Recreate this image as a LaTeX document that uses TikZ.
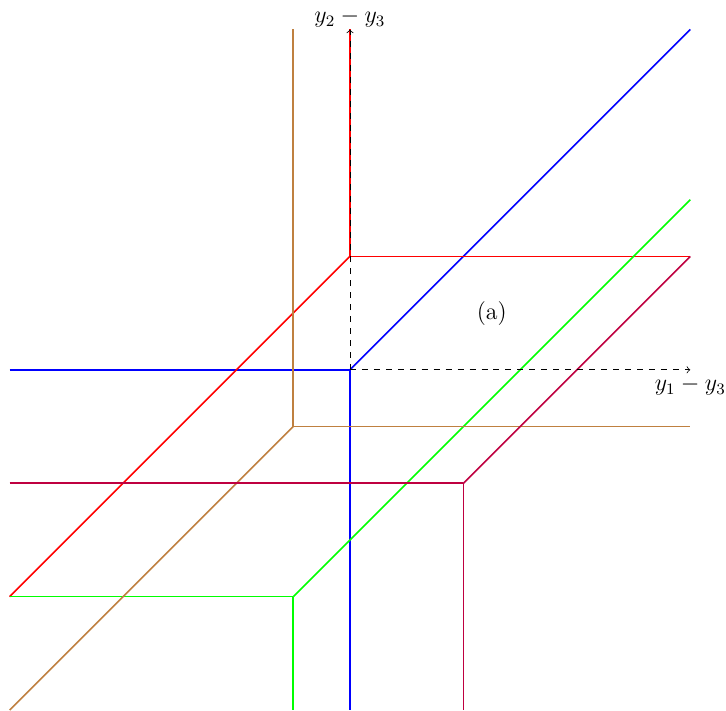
\documentclass[tikz,border=0pt]{standalone}
\usepackage{amsmath}
\usepackage{amssymb}
\usetikzlibrary{arrows, positioning, calc}

\begin{document}
\begin{tikzpicture}[scale=1, font=\large]
    \useasboundingbox (-6.17,-6) rectangle (6.63,6.52);
    % Vertices
    \coordinate (vb) at (0,0);
    \coordinate (vr) at (0,2);
    \coordinate (vg) at (-1,-4);
    \coordinate (vo) at (-1,-1);
    \coordinate (vp) at (2,-2);

    % Blue
    \draw[thick, blue] (-6,0) -- (vb);
    \draw[thick, blue] (vb) -- (0,-6);
    \draw[thick, blue] (vb) -- (6,6);
    % Red
    \draw[thick, red] (vr) -- (0,6);
    \draw[thick, red] (vr) -- (6,2);
    \draw[thick, red] (vr) -- (-6,-4);
    % Green
    \draw[thick, green] (-6,-4) -- (vg);
    \draw[thick, green] (vg) -- (-1,-6);
    \draw[thick, green] (vg) -- (6,3);
    % Brown
    \draw[thick, brown] (vo) -- (-1,6);
    \draw[thick, brown] (vo) -- (6,-1);
    \draw[thick, brown] (vo) -- (-6,-6);
    % Purple
    \draw[thick, purple] (-6,-2) -- (vp);
    \draw[thick, purple] (vp) -- (2,-6);
    \draw[thick, purple] (vp) -- (6,2);

    % Axes
    \draw[->, dashed] (vb) -- (6,0) node[below] (xl) {$y_1-y_3$};
    \draw[->, dashed] (vb) -- (0,6) node[above, inner sep=1pt] (yl) {$y_2-y_3$};
    \node (lab) at (2.5,1) {(a)};
\end{tikzpicture}
\end{document}
